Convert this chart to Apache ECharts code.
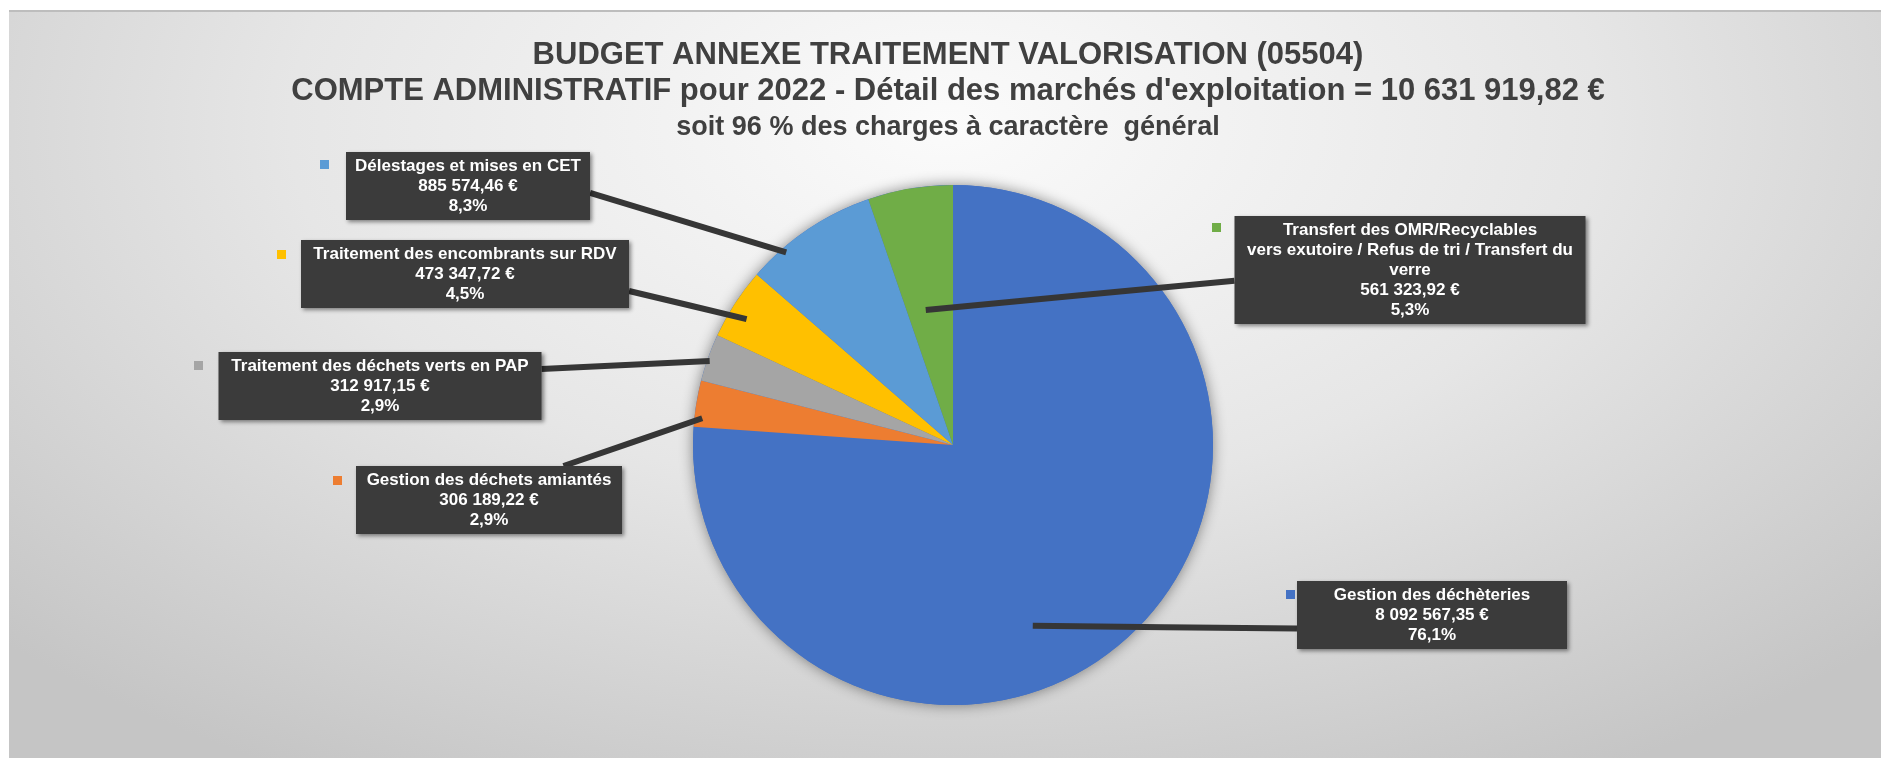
<!DOCTYPE html>
<html>
<head>
    <meta charset="utf-8">
    <title>Budget annexe traitement valorisation</title>
    <script src="https://cdn.jsdelivr.net/npm/echarts/dist/echarts.min.js"></script>
    <style>
        html, body { margin: 0; padding: 0; background: #fff; }
        #panel {
            position: absolute; left: 9px; top: 10px; width: 1872px; height: 748px;
            box-sizing: border-box; border-top: 2px solid #bdbdbd;
            background: radial-gradient(ellipse 70% 100% at 50% 15%, #fbfbfb 0%, #e6e6e6 50%, #c5c5c5 100%);
        }
        #chart { position: absolute; left: 0; top: 0; width: 1881px; height: 758px; }
    </style>
</head>
<body>
<div id="panel"></div>
<div id="chart"></div>
<script>
    // marchés d'exploitation, dans le sens horaire depuis midi
    var categories = [
        'Gestion des déchèteries',
        'Gestion des déchets amiantés',
        'Traitement des déchets verts en PAP',
        'Traitement des encombrants sur RDV',
        'Délestages et mises en CET',
        'Transfert des OMR/Recyclables\nvers exutoire / Refus de tri / Transfert du\nverre'
    ];
    var montants = [8092567.35, 306189.22, 312917.15, 473347.72, 885574.46, 561323.92];
    var couleurs = ['#4472C4', '#ED7D31', '#A5A5A5', '#FFC000', '#5B9BD5', '#70AD47'];

    // position des étiquettes : centre x, haut y, largeur du texte
    var boites = [[1432, 581, 262], [489, 466, 258], [380, 352, 315], [465, 240, 320], [468, 152, 236], [1410, 216, 343]];
    // pointe des bulles : [fraction du rayon, position dans l'angle de la part]
    var pointes = [[0.76, 0.57], [0.97, 0.2], [0.99, 0.44], [0.93, 0.4], [0.98, 0.27], [0.53, 0.4]];
    // attache des bulles sur la boîte : [fraction largeur, fraction hauteur]
    var ancres = [[0, 0.7], [0.78, 0], [1, 0.25], [1, 0.75], [1, 0.6], [0, 0.6]];
    // petits carrés de légende à gauche des étiquettes
    var carres = [[1290, 594], [337, 480], [198, 365], [281, 254], [324, 164], [1216, 227]];

    var centre = [953, 445], rayon = 260;
    var police = "'Liberation Sans', Arial, sans-serif";
    var total = montants.reduce(function (a, b) { return a + b; }, 0);

    function euro(v) {
        var p = v.toFixed(2).split('.');
        return p[0].replace(/\B(?=(\d{3})+(?!\d))/g, ' ') + ',' + p[1] + ' €';
    }
    function pct(v) {
        return (v / total * 100).toFixed(1).replace('.', ',') + '%';
    }

    // trait de rappel : de l'intérieur de la part jusqu'au bord de la bulle
    function rappel(i) {
        var cumul = 0;
        for (var k = 0; k < i; k++) cumul += montants[k];
        var a = (90 - (cumul + montants[i] * pointes[i][1]) / total * 360) * Math.PI / 180;
        var r = rayon * pointes[i][0];
        var tip = [centre[0] + r * Math.cos(a), centre[1] - r * Math.sin(a)];
        var b = boites[i];
        var nbLignes = categories[i].split('\n').length + 2;
        var h = nbLignes * 20 + 8, w = b[2] + 8;
        var base = [b[0] - w / 2 + w * ancres[i][0], b[1] + h * ancres[i][1]];
        return [tip, [(tip[0] + base[0]) / 2, (tip[1] + base[1]) / 2], base];
    }

    var myChart = echarts.init(document.getElementById('chart'));

    var titres = [
        {text: 'BUDGET ANNEXE TRAITEMENT VALORISATION (05504)', top: 37, size: 31, lh: 36},
        {text: "COMPTE ADMINISTRATIF pour 2022 - Détail des marchés d'exploitation = " + euro(total), top: 73, size: 31, lh: 36},
        {text: 'soit 96 % des charges à caractère  général', top: 112, size: 27, lh: 32}
    ];

    var parts = categories.map(function (n, i) {
        return {name: n, value: montants[i], itemStyle: {color: couleurs[i]}};
    });

    myChart.setOption({
        animation: false,
        title: titres.map(function (t) {
            return {
                text: t.text, left: 948, top: t.top, textAlign: 'center', padding: 0,
                textStyle: {fontFamily: police, fontSize: t.size, fontWeight: 'bold', color: '#404040', lineHeight: t.lh}
            };
        }),
        legend: carres.map(function (c, i) {
            return {
                data: [categories[i]], left: c[0] - 4, top: c[1] - 4, padding: 0,
                icon: 'rect', itemWidth: 9, itemHeight: 9, selectedMode: false,
                formatter: function () { return ''; }
            };
        }),
        series: [
            {
                // ombre du disque
                type: 'pie', center: centre, radius: rayon, z: 2, silent: true,
                itemStyle: {shadowBlur: 14, shadowColor: 'rgba(0,0,0,0.45)'},
                label: {show: false}, labelLine: {show: false},
                data: [{value: total, name: '', itemStyle: {color: '#4472C4'}}]
            },
            {
                type: 'pie', center: centre, radius: rayon, z: 3,
                startAngle: 90, clockwise: true,
                label: {show: false}, labelLine: {show: false},
                data: parts
            },
            {
                // calque transparent qui porte les bulles au-dessus du disque
                type: 'pie', center: centre, radius: rayon, z: 4, silent: true,
                startAngle: 90, clockwise: true, avoidLabelOverlap: false,
                itemStyle: {color: 'rgba(0,0,0,0)'},
                data: categories.map(function (n, i) {
                    return {name: n, value: montants[i], label: {width: boites[i][2]}};
                }),
                label: {
                    show: true, position: 'outside',
                    formatter: function (p) { return p.name + '\n' + euro(p.value) + '\n' + pct(p.value); },
                    fontFamily: police, fontSize: 17, fontWeight: 'bold', lineHeight: 20, color: '#fff',
                    backgroundColor: '#3b3b3b', padding: [4, 4], align: 'center',
                    shadowColor: 'rgba(0,0,0,0.45)', shadowBlur: 4, shadowOffsetX: 2, shadowOffsetY: 2
                },
                labelLine: {show: true, length: 15, length2: 10, lineStyle: {color: '#363636', width: 6}},
                labelLayout: function (p) {
                    var b = boites[p.dataIndex];
                    return {x: b[0], y: b[1], align: 'center', verticalAlign: 'top', labelLinePoints: rappel(p.dataIndex)};
                }
            }
        ]
    });
</script>
</body>
</html>
